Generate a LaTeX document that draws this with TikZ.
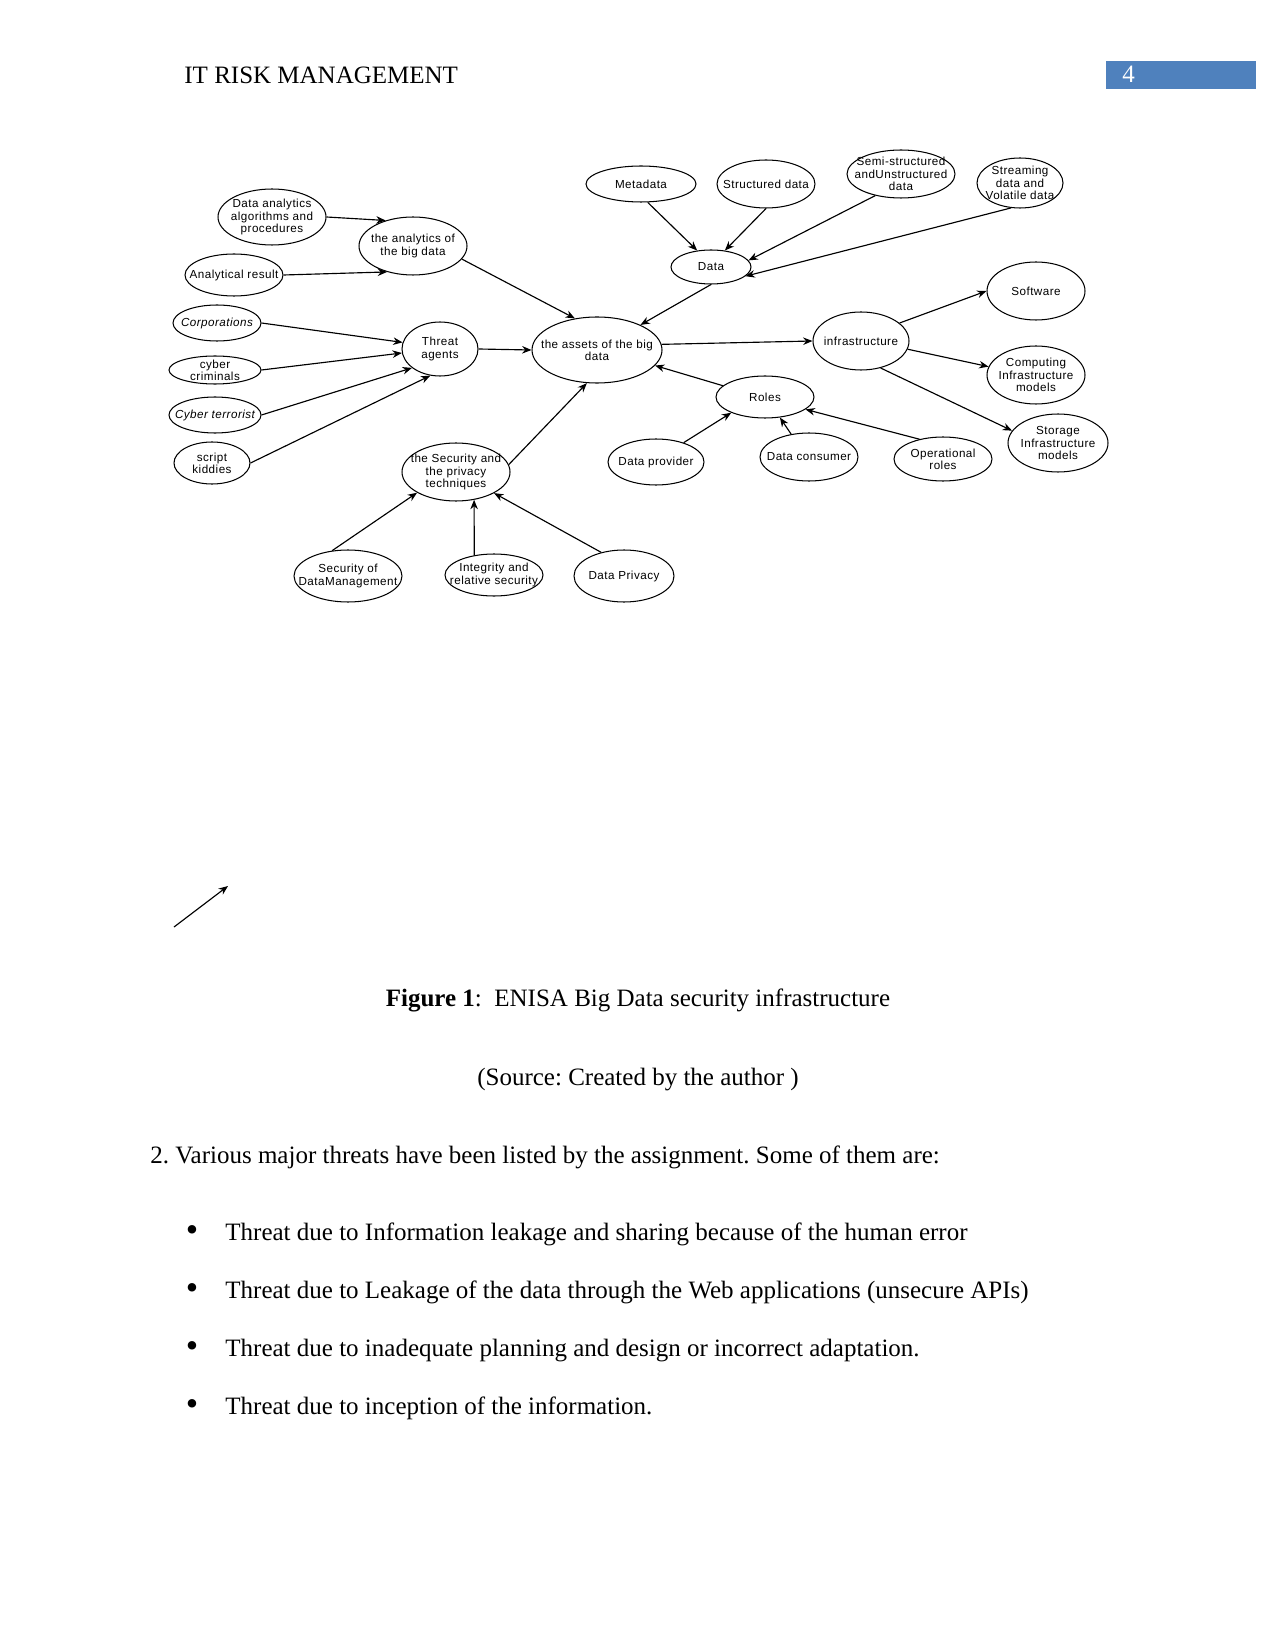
\documentclass[tikz,border=0pt]{standalone}
\usepackage{fontspec}
\setmainfont{Liberation Serif}
\newfontfamily\dfont[LetterSpace=4]{Liberation Sans}
\usetikzlibrary{shapes.geometric,arrows.meta}
\definecolor{hdrblue}{RGB}{79,129,189}
\frenchspacing
\newcommand\EN[5]{\node[ell,minimum width=#3*0.48pt,minimum height=#4*0.48pt] (#1) at (#2) {};
  \node[lt] (#1-t) at (#1.center) {#5};}
\begin{document}
\begin{tikzpicture}[x=0.48pt,y=-0.48pt,
  ell/.style={draw,ellipse,inner sep=0pt,line width=0.5pt},
  lt/.style={font=\dfont\fontsize{5.6}{5.9}\selectfont,align=center,inner sep=0pt},
  arr/.style={-{Stealth[length=4.5pt,width=3.6pt]},line width=0.55pt},
  body/.style={font=\fontsize{12}{14}\selectfont,inner sep=0pt},
  bul/.style={font=\fontsize{17}{17}\selectfont,inner sep=0pt}]
\useasboundingbox (0,0) rectangle (1275,1650);
\fill[white] (0,0) rectangle (1275,1650);
% header
\node[body,anchor=base west] (hdr) at (184,84) {IT RISK MANAGEMENT};
\node[fill=hdrblue,inner sep=0pt,anchor=north west,minimum width=150*0.48pt,minimum height=28*0.48pt] (pgbox) at (1106,61) {};
\node[body,anchor=base west,text=white] (pgnum) at (1122,83) {4};
% nodes
\EN{da}{272,217}{108}{56}{Data analytics\\algorithms and\\procedures}
\EN{ar}{234,275}{98}{42}{Analytical result}
\EN{an}{413,246}{108}{58}{the analytics of\\the big data}
\EN{corp}{217,323}{88}{36}{\itshape Corporations}
\EN{cc}{215,370}{92}{28}{cyber\\criminals}
\EN{ct}{215,415}{92}{36}{\itshape Cyber terrorist}
\EN{sk}{212,463}{76}{42}{script\\kiddies}
\EN{thr}{440,349}{76}{54}{Threat\\agents}
\EN{as}{597,350}{130}{66}{the assets of the big\\data}
\EN{meta}{641,184}{110}{36}{Metadata}
\EN{st}{766,184}{98}{48}{Structured data}
\EN{semi}{901,174}{108}{48}{Semi-structured\\andUnstructured\\data}
\EN{stream}{1020,183}{86}{50}{Streaming\\data and\\Volatile data}
\EN{data}{711,267}{80}{34}{Data}
\EN{inf}{861,341}{96}{58}{infrastructure}
\EN{sw}{1036,291}{98}{58}{Software}
\EN{comp}{1036,375}{98}{58}{Computing\\Infrastructure\\models}
\EN{stor}{1058,443}{100}{58}{Storage\\Infrastructure\\models}
\EN{roles}{765,397}{98}{42}{Roles}
\EN{dp}{656,462}{96}{46}{Data provider}
\EN{dc}{809,457}{98}{48}{Data consumer}
\EN{op}{943,459}{98}{44}{Operational\\roles}
\EN{sp}{456,472}{108}{58}{the Security and\\the privacy\\techniques}
\EN{sdm}{348,576}{108}{52}{Security of\\DataManagement}
\EN{int}{494,575}{98}{42}{Integrity and\\relative security}
\EN{dpr}{624,576}{100}{52}{Data Privacy}
% connectors
\draw[arr] (da.east) -- (an.137);
\draw[arr] (ar.east) -- (an.225);
\draw[arr] (an.-15) -- (as.125);
\draw[arr] (data.south) -- (as.30);
\draw[arr] (meta.-70) -- (data.130);
\draw[arr] (st.south) -- (data.50);
\draw[arr] (semi.220) -- (data.10);
\draw[arr] (stream.-110) -- (data.-15);
\draw[arr] (thr.east) -- (as.west);
\draw[arr] (as.5) -- (inf.west);
\draw[arr] (inf.25) -- (sw.west);
\draw[arr] (inf.-10) -- (comp.170);
\draw[arr] (inf.-54) -- (stor.165);
\draw[arr] (roles.165) -- (as.-15);
\draw[arr] (dp.35) -- (roles.205);
\draw[arr] (dc.128) -- (roles.-54);
\draw[arr] (op.140) -- (roles.-17);
\draw[arr] (sp.8) -- (as.-107);
\draw[arr] (sdm.122) -- (sp.208);
\draw[arr] (int.135) -- (sp.-57);
\draw[arr] (dpr.134) -- (sp.-29);
\draw[arr] (corp.east) -- (thr.170);
\draw[arr] (cc.east) -- (thr.186);
\draw[arr] (ct.east) -- (thr.214);
\draw[arr] (sk.east) -- (thr.250);
% stray arrow
\coordinate (s1) at (174,927);
\coordinate (s2) at (228,886);
\draw[arr] (s1) -- (s2);
% caption and text
\node[body,anchor=base] (cap) at (638,1006) {\textbf{Figure 1}:\ \ ENISA Big Data security infrastructure};
\node[body,anchor=base] (src) at (638,1085) {(Source: Created by the author )};
\node[body,anchor=base west] (p2) at (150,1163) {2. Various major threats have been listed by the assignment. Some of them are:};
\node[bul,anchor=base] (b1) at (192,1241) {\textbullet};
\node[body,anchor=base west] (t1) at (225,1240) {Threat due to Information leakage and sharing because of the human error};
\node[bul,anchor=base] (b2) at (192,1299) {\textbullet};
\node[body,anchor=base west] (t2) at (225,1298) {Threat due to Leakage of the data through the Web applications (unsecure APIs)};
\node[bul,anchor=base] (b3) at (192,1357) {\textbullet};
\node[body,anchor=base west] (t3) at (225,1356) {Threat due to inadequate planning and design or incorrect adaptation.};
\node[bul,anchor=base] (b4) at (192,1415) {\textbullet};
\node[body,anchor=base west] (t4) at (225,1414) {Threat due to inception of the information.};
\end{tikzpicture}
\end{document}
